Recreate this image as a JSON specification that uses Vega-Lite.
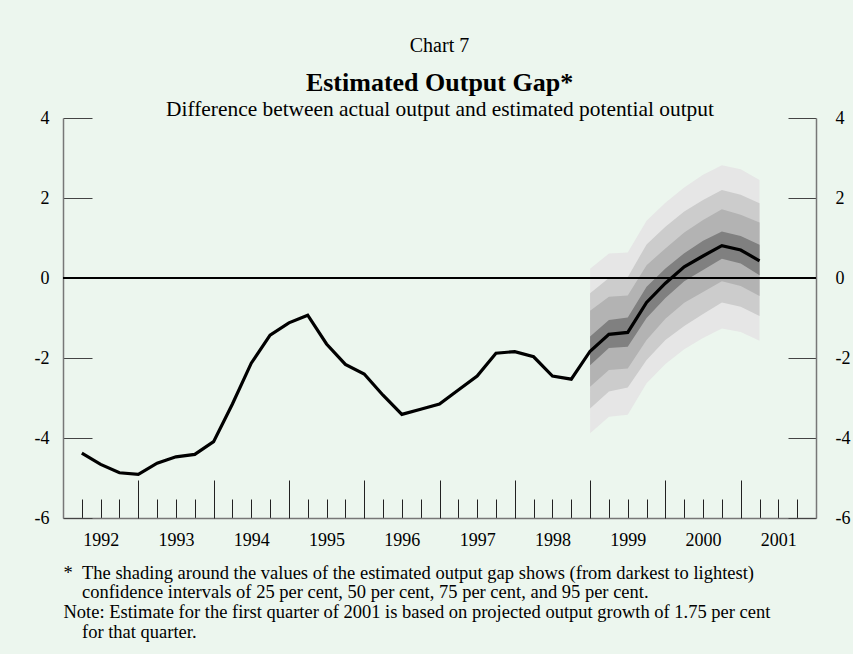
{
  "$schema": "https://vega.github.io/schema/vega-lite/v6.json",
  "width": 753,
  "height": 400,
  "autosize": {"type": "none"},
  "padding": {"left": 63, "top": 118, "right": 37, "bottom": 136},
  "background": "#ecf6ee",
  "config": {
    "view": {"stroke": null},
    "font": "Liberation Serif",
    "axis": {"labelFont": "Liberation Serif", "titleFont": "Liberation Serif", "grid": false, "labelColor": "#000", "titleColor": "#000"}
  },
  "title": {
    "text": "Chart 7",
    "subtitle": "Estimated Output Gap*",
    "anchor": "middle",
    "font": "Liberation Serif",
    "fontSize": 20,
    "fontWeight": "normal",
    "color": "#000",
    "subtitleFont": "Liberation Serif",
    "subtitleFontSize": 26,
    "subtitleFontWeight": "bold",
    "subtitleColor": "#000",
    "subtitlePadding": 14,
    "offset": 2
  },
  "datasets": {
    "gap": [
      {"t": 1992.25, "v": -4.38}, {"t": 1992.5, "v": -4.66}, {"t": 1992.75, "v": -4.87}, {"t": 1993.0, "v": -4.91},
      {"t": 1993.25, "v": -4.63}, {"t": 1993.5, "v": -4.47}, {"t": 1993.75, "v": -4.41}, {"t": 1994.0, "v": -4.09},
      {"t": 1994.25, "v": -3.15}, {"t": 1994.5, "v": -2.13}, {"t": 1994.75, "v": -1.43}, {"t": 1995.0, "v": -1.12},
      {"t": 1995.25, "v": -0.93}, {"t": 1995.5, "v": -1.65}, {"t": 1995.75, "v": -2.16}, {"t": 1996.0, "v": -2.4},
      {"t": 1996.25, "v": -2.93}, {"t": 1996.5, "v": -3.41}, {"t": 1996.75, "v": -3.28}, {"t": 1997.0, "v": -3.15},
      {"t": 1997.25, "v": -2.8}, {"t": 1997.5, "v": -2.45}, {"t": 1997.75, "v": -1.88}, {"t": 1998.0, "v": -1.84},
      {"t": 1998.25, "v": -1.97}, {"t": 1998.5, "v": -2.45}, {"t": 1998.75, "v": -2.53}, {"t": 1999.0, "v": -1.83},
      {"t": 1999.25, "v": -1.41}, {"t": 1999.5, "v": -1.36}, {"t": 1999.75, "v": -0.61}, {"t": 2000.0, "v": -0.13},
      {"t": 2000.25, "v": 0.28}, {"t": 2000.5, "v": 0.55}, {"t": 2000.75, "v": 0.81}, {"t": 2001.0, "v": 0.7},
      {"t": 2001.25, "v": 0.43}
    ],
    "fan": [
      {"t": 1999.0, "l95": -3.88, "h95": 0.23, "l75": -3.26, "h75": -0.38, "l50": -2.72, "h50": -0.82, "l25": -2.18, "h25": -1.46},
      {"t": 1999.25, "l95": -3.47, "h95": 0.61, "l75": -2.84, "h75": 0.0, "l50": -2.3, "h50": -0.47, "l25": -1.75, "h25": -1.05},
      {"t": 1999.5, "l95": -3.42, "h95": 0.64, "l75": -2.74, "h75": 0.02, "l50": -2.26, "h50": -0.44, "l25": -1.72, "h25": -0.99},
      {"t": 1999.75, "l95": -2.63, "h95": 1.43, "l75": -2.05, "h75": 0.84, "l50": -1.55, "h50": 0.32, "l25": -1.0, "h25": -0.22},
      {"t": 2000.0, "l95": -2.15, "h95": 1.88, "l75": -1.55, "h75": 1.28, "l50": -1.02, "h50": 0.74, "l25": -0.5, "h25": 0.24},
      {"t": 2000.25, "l95": -1.78, "h95": 2.26, "l75": -1.2, "h75": 1.66, "l50": -0.62, "h50": 1.14, "l25": -0.08, "h25": 0.62},
      {"t": 2000.5, "l95": -1.5, "h95": 2.58, "l75": -0.9, "h75": 1.95, "l50": -0.35, "h50": 1.45, "l25": 0.2, "h25": 0.93},
      {"t": 2000.75, "l95": -1.26, "h95": 2.82, "l75": -0.61, "h75": 2.2, "l50": -0.08, "h50": 1.72, "l25": 0.48, "h25": 1.16},
      {"t": 2001.0, "l95": -1.35, "h95": 2.72, "l75": -0.72, "h75": 2.08, "l50": -0.2, "h50": 1.58, "l25": 0.36, "h25": 1.05},
      {"t": 2001.25, "l95": -1.57, "h95": 2.45, "l75": -0.95, "h75": 1.87, "l50": -0.45, "h50": 1.39, "l25": 0.07, "h25": 0.83}
    ],
    "zero": [{"level": 0}]
  },
  "resolve": {"axis": {"x": "independent", "y": "independent"}},
  "layer": [
    {
      "data": {"name": "fan"},
      "mark": {"type": "area", "color": "#e6e6e6"},
      "encoding": {
        "x": {
          "field": "t", "type": "quantitative",
          "scale": {"domain": [1992, 2002], "nice": false, "zero": false},
          "axis": {
            "orient": "bottom",
            "values": [1992.5, 1993.5, 1994.5, 1995.5, 1996.5, 1997.5, 1998.5, 1999.5, 2000.5, 2001.5],
            "labelExpr": "'' + floor(datum.value)",
            "ticks": false, "domain": false,
            "labelFontSize": 18, "labelPadding": 13,
            "title": [
              "*\u00a0\u00a0The shading around the values of the estimated output gap shows (from darkest to lightest)",
              "\u200b\u00a0\u00a0\u00a0\u00a0confidence intervals of 25 per cent, 50 per cent, 75 per cent, and 95 per cent.",
              "Note: Estimate for the first quarter of 2001 is based on projected output growth of 1.75 per cent",
              "\u200b\u00a0\u00a0\u00a0\u00a0for that quarter."
            ],
            "titleFontSize": 18.5, "titleFontWeight": "normal", "titleAnchor": "start", "titleAlign": "left",
            "titlePadding": 14, "titleLineHeight": 19.8
          }
        },
        "y": {
          "field": "l95", "type": "quantitative",
          "scale": {"domain": [-6, 4], "nice": false, "zero": false},
          "axis": {"orient": "left", "values": [-6, -4, -2, 0, 2, 4], "labels": false, "tickSize": -29, "tickColor": "#444", "tickWidth": 1, "domainColor": "#777", "domainWidth": 1.5, "title": null}
        },
        "y2": {"field": "h95"}
      }
    },
    {
      "data": {"name": "fan"},
      "mark": {"type": "area", "color": "#cccccc"},
      "encoding": {
        "x": {
          "field": "t", "type": "quantitative",
          "scale": {"domain": [1992, 2002], "nice": false, "zero": false},
          "axis": {
            "orient": "bottom",
            "values": [1992.25, 1992.5, 1992.75, 1993.25, 1993.5, 1993.75, 1994.25, 1994.5, 1994.75, 1995.25, 1995.5, 1995.75, 1996.25, 1996.5, 1996.75, 1997.25, 1997.5, 1997.75, 1998.25, 1998.5, 1998.75, 1999.25, 1999.5, 1999.75, 2000.25, 2000.5, 2000.75, 2001.25, 2001.5, 2001.75],
            "labels": false, "tickSize": -19, "tickColor": "#222", "tickWidth": 1,
            "domain": true, "domainColor": "#777", "domainWidth": 1.5, "title": null
          }
        },
        "y": {
          "field": "l75", "type": "quantitative",
          "scale": {"domain": [-6, 4], "nice": false, "zero": false},
          "axis": {"orient": "left", "values": [-6, -4, -2, 0, 2, 4], "labelExpr": "'' + datum.value", "ticks": false, "domain": false, "labelFontSize": 18, "labelPadding": 14, "title": null}
        },
        "y2": {"field": "h75"}
      }
    },
    {
      "data": {"name": "fan"},
      "mark": {"type": "area", "color": "#b3b3b3"},
      "encoding": {
        "x": {
          "field": "t", "type": "quantitative",
          "scale": {"domain": [1992, 2002], "nice": false, "zero": false},
          "axis": {
            "orient": "bottom",
            "values": [1993, 1994, 1995, 1996, 1997, 1998, 1999, 2000, 2001],
            "labels": false, "tickSize": -38, "tickColor": "#222", "tickWidth": 1,
            "domain": false, "title": null
          }
        },
        "y": {
          "field": "l50", "type": "quantitative",
          "scale": {"domain": [-6, 4], "nice": false, "zero": false},
          "axis": {"orient": "right", "values": [-6, -4, -2, 0, 2, 4], "labels": false, "tickSize": -28, "tickColor": "#444", "tickWidth": 1, "domainColor": "#777", "domainWidth": 1.5, "title": null}
        },
        "y2": {"field": "h50"}
      }
    },
    {
      "data": {"name": "fan"},
      "mark": {"type": "area", "color": "#808080"},
      "encoding": {
        "x": {
          "field": "t", "type": "quantitative",
          "scale": {"domain": [1992, 2002], "nice": false, "zero": false},
          "axis": {
            "orient": "top", "labels": false, "ticks": false, "domain": false,
            "title": "Difference between actual output and estimated potential output",
            "titleFontSize": 21.4, "titleFontWeight": "normal", "titlePadding": -1
          }
        },
        "y": {
          "field": "l25", "type": "quantitative",
          "scale": {"domain": [-6, 4], "nice": false, "zero": false},
          "axis": {"orient": "right", "values": [-6, -4, -2, 0, 2, 4], "labelExpr": "'' + datum.value", "ticks": false, "domain": false, "labelFontSize": 18, "labelPadding": 19, "labelAlign": "left", "title": null}
        },
        "y2": {"field": "h25"}
      }
    },
    {
      "data": {"name": "zero"},
      "mark": {"type": "rule", "color": "#000", "strokeWidth": 2},
      "encoding": {
        "y": {"field": "level", "type": "quantitative", "scale": {"domain": [-6, 4], "nice": false, "zero": false}, "axis": null}
      }
    },
    {
      "data": {"name": "gap"},
      "mark": {"type": "line", "color": "#000", "strokeWidth": 3.2},
      "encoding": {
        "x": {"field": "t", "type": "quantitative", "scale": {"domain": [1992, 2002], "nice": false, "zero": false}, "axis": null},
        "y": {"field": "v", "type": "quantitative", "scale": {"domain": [-6, 4], "nice": false, "zero": false}, "axis": null}
      }
    }
  ]
}
